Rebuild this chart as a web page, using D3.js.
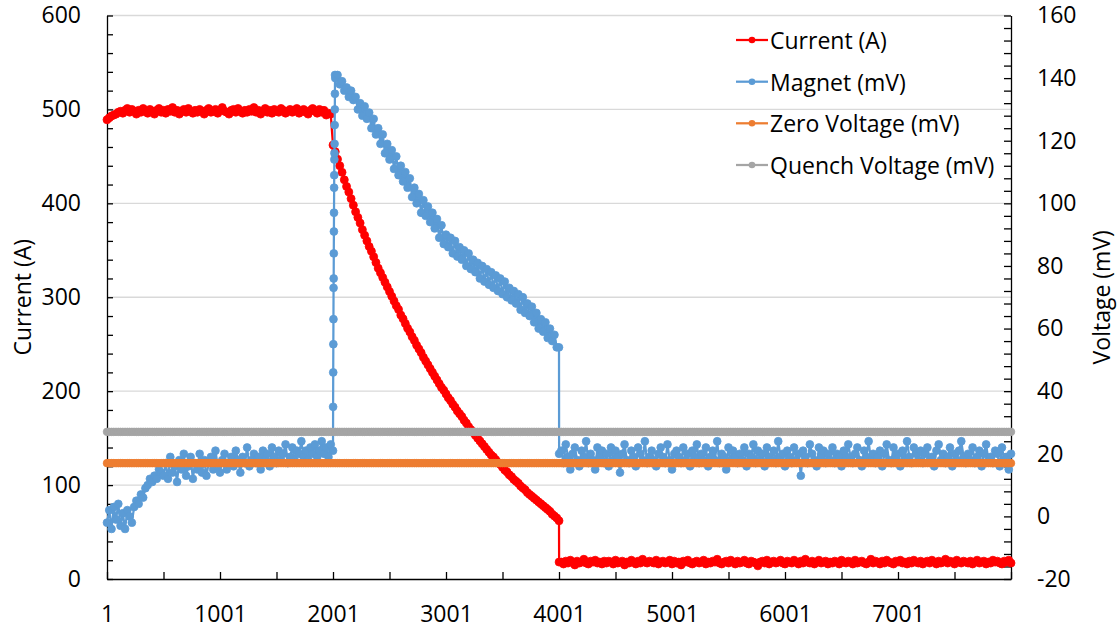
<!DOCTYPE html>
<html>
<head>
<meta charset="utf-8">
<script src="https://cdn.jsdelivr.net/npm/d3@7"></script>
<style>
  html, body { margin: 0; padding: 0; background: #fff; }
  svg { display: block; }
  text { font-family: "Open Sans", "Liberation Sans", sans-serif; fill: #000; }
</style>
</head>
<body>
<svg id="chart" width="1119" height="629"></svg>
<script>
// ---------------- DATA ----------------
// Samples every 20 points (index 1, 21, 41, ... 8001)
const sampleStep = 20;
const sampleStart = 1;

const seriesNames = ["Current (A)", "Magnet (mV)", "Zero Voltage (mV)", "Quench Voltage (mV)"];
const seriesColors = ["#FF0000", "#5B9BD5", "#ED7D31", "#A5A5A5"];

const xTickLabels = [1, 1001, 2001, 3001, 4001, 5001, 6001, 7001];

// Current (A), left axis
const currentA = [
  // steady current, index 1 .. 1981
  489,491,493,494,495,497,498,496,499,501,497,500,498,495,499,497,501,498,496,500,
  498,495,499,501,497,499,496,500,498,502,497,499,495,498,500,497,501,498,496,499,
  497,500,498,495,499,501,497,498,500,496,499,502,498,497,495,499,500,497,501,498,
  496,499,497,500,498,502,497,499,495,498,501,497,499,496,500,498,497,501,499,496,
  498,500,497,499,501,496,498,500,497,495,499,501,498,496,500,497,499,494,496,495,
  // decay after quench, index 2001 .. 3981
  462,455,447,440,433,425,418,412,405,398,391,385,379,372,366,360,354,349,343,337,
  331,326,321,316,311,306,301,296,291,287,281,277,272,267,263,258,254,249,245,241,
  236,232,228,224,220,216,212,208,204,201,197,193,190,186,183,179,176,173,169,166,
  162,159,156,153,150,147,144,141,138,135,132,130,127,124,122,119,116,114,111,109,
  106,104,102,99,97,95,92,90,88,86,84,82,80,78,76,74,72,69,67,65,
  // index 4001
  62,
  // after switch-off, index 4021 .. 8001
  18,16,19,17,20,18,15,19,17,18,21,17,16,19,18,20,17,18,16,19,
  17,19,18,16,20,17,18,19,15,18,17,20,18,16,19,17,21,18,17,19,
  18,17,20,16,18,19,17,18,20,16,19,17,18,15,19,18,20,17,16,18,
  19,17,18,20,16,18,17,19,18,21,17,16,18,19,17,20,18,16,19,17,
  18,20,17,16,19,18,17,14,18,19,17,20,16,18,19,17,18,20,17,16,
  19,18,17,20,18,16,19,17,21,18,17,19,16,18,20,17,18,19,16,18,
  17,19,18,16,20,18,17,19,18,16,20,17,18,19,17,16,18,21,17,19,
  18,16,19,17,20,18,17,16,19,18,20,17,18,16,19,17,20,18,17,19,
  16,18,19,17,20,18,16,19,17,18,21,17,19,18,16,20,18,17,19,18,
  17,19,16,18,20,17,18,19,16,18,17,20,18,19,17,16,19,18,20,17
];
// extra point recorded at the fast drop
const currentExtraIdx = [4002];
const currentExtraA = [18];

// Magnet (mV), right axis
const magnetMV = [
  // index 1 .. 1981
  -2,2,-4,3,-1,4,-3,1,-4,2,0,-2,3,5,4,7,6,9,10,12,
  11,13,12,15,14,13,17,12,19,14,16,11,18,15,20,13,16,19,12,17,
  15,20,14,18,13,17,19,15,21,16,14,18,20,15,17,19,16,21,18,14,
  19,17,22,16,18,20,17,19,15,21,18,20,16,22,19,17,21,18,20,23,
  17,19,22,18,21,20,24,19,21,18,22,20,23,19,21,24,20,22,19,23,
  // index 2001
  21,
  // decline after the quench spike, index 2021 .. 3981
  140,141,138,139,136,137,134,136,133,134,
  130,132,128,131,127,129,124,127,122,124,
  119,122,116,119,114,117,111,115,109,112,
  107,110,105,108,102,105,100,103,97,101,
  96,99,94,97,92,95,89,93,87,90,
  86,89,84,88,83,86,82,85,80,84,
  79,82,78,81,76,80,75,79,74,78,
  73,77,72,76,71,75,70,73,69,72,
  68,71,66,70,65,68,64,67,62,65,
  60,63,59,62,57,60,56,58,54,
  // index 4001
  54,
  // index 4021 .. 8001
  21,17,23,19,15,20,22,18,16,21,19,24,17,20,18,15,22,19,21,17,
  20,16,22,18,21,19,14,20,23,18,17,21,19,16,22,20,18,24,17,19,
  21,18,16,20,22,19,17,23,18,15,20,21,19,17,22,18,20,16,21,19,
  23,17,20,18,22,16,19,21,18,24,17,20,19,15,22,18,21,19,17,20,
  18,22,16,20,19,23,17,21,18,20,16,22,19,18,21,17,24,19,20,16,
  21,19,17,22,18,20,13,21,19,17,23,20,18,16,22,19,21,17,20,18,
  22,17,20,19,16,21,18,23,19,17,20,22,18,16,21,19,24,18,20,17,
  19,21,16,20,23,18,17,22,19,20,16,21,18,24,19,17,22,20,18,21,
  17,20,22,18,19,16,21,23,18,20,17,19,22,16,20,18,21,24,19,17,
  20,18,22,17,19,21,16,20,23,18,19,17,21,20,16,22,18,19,15,20
];
// extra points recorded during the quench spike and the final drop
const magnetExtraIdx = [2002, 2003, 2004, 2005, 2006, 2007, 2008, 2009, 2010, 2011, 2012, 2013, 2014, 2015, 2016, 2017, 2018, 2019, 4002];
const magnetExtraMV = [35, 46, 55, 63, 73, 76, 84, 91, 97, 105, 109, 114, 116, 119, 125, 130, 135, 141, 20];

const zeroVoltageMV = 17;
const quenchVoltageMV = 27;

// ---------------- BUILD ----------------
function buildSeries(vals, extraIdx, extraVals) {
  const pts = vals.map((v, i) => ({ idx: sampleStart + i * sampleStep, v }));
  (extraIdx || []).forEach((ix, k) => pts.push({ idx: ix, v: extraVals[k] }));
  pts.sort((a, b) => a.idx - b.idx);
  return pts;
}
const currentPts = buildSeries(currentA, currentExtraIdx, currentExtraA);
const magnetPts = buildSeries(magnetMV, magnetExtraIdx, magnetExtraMV);
const sampleIdx = magnetMV.map((_, i) => sampleStart + i * sampleStep);
const zeroPts = sampleIdx.map(idx => ({ idx, v: zeroVoltageMV }));
const quenchPts = sampleIdx.map(idx => ({ idx, v: quenchVoltageMV }));

// ---------------- LAYOUT ----------------
const plot = { left: 107, right: 1011, top: 15.5, bottom: 579 };
const svg = d3.select("#chart");

const x = d3.scaleLinear().domain([1, 8001]).range([plot.left, plot.right]);
const yL = d3.scaleLinear().domain([0, 600]).range([plot.bottom, plot.top]);
const yR = d3.scaleLinear().domain([-20, 160]).range([plot.bottom, plot.top]);

const fontSize = 23;

// gridlines
svg.append("g").selectAll("line")
  .data(d3.range(100, 601, 100))
  .join("line")
  .attr("x1", plot.left).attr("x2", plot.right)
  .attr("y1", d => yL(d)).attr("y2", d => yL(d))
  .attr("stroke", "#D9D9D9").attr("stroke-width", 1.3);

// axes
function styleAxis(g) {
  g.selectAll("path.domain").attr("stroke", "#000").attr("stroke-width", 1.3);
  g.selectAll(".tick line").attr("stroke", "#000").attr("stroke-width", 1.3);
  g.selectAll("text").style("font-size", fontSize + "px").attr("fill", "#000");
}

svg.append("g")
  .attr("transform", `translate(${plot.left},0)`)
  .call(d3.axisLeft(yL).tickValues(d3.range(0, 601, 20))
    .tickSizeInner(-6).tickSizeOuter(0).tickPadding(26)
    .tickFormat(d => d % 100 === 0 ? String(d) : ""))
  .call(styleAxis);

svg.append("g")
  .attr("transform", `translate(${plot.right},0)`)
  .call(d3.axisRight(yR).tickValues(d3.range(-20, 161, 4))
    .tickSizeInner(-7).tickSizeOuter(0).tickPadding(26)
    .tickFormat(d => d % 20 === 0 ? String(d) : ""))
  .call(styleAxis);

svg.append("g")
  .attr("transform", `translate(0,${plot.bottom})`)
  .call(d3.axisBottom(x).tickValues(d3.range(1, 8002, 500))
    .tickSizeInner(-7).tickSizeOuter(0).tickPadding(27)
    .tickFormat(d => xTickLabels.includes(d) ? String(d) : ""))
  .call(styleAxis);

// axis titles
svg.append("text")
  .attr("transform", `translate(22,${(plot.top + plot.bottom) / 2}) rotate(-90)`)
  .attr("text-anchor", "middle").attr("dominant-baseline", "central")
  .style("font-size", fontSize + "px").text("Current (A)");
svg.append("text")
  .attr("transform", `translate(1101,${(plot.top + plot.bottom) / 2}) rotate(-90)`)
  .attr("text-anchor", "middle").attr("dominant-baseline", "central")
  .style("font-size", fontSize + "px").text("Voltage (mV)");

// series
function drawSeries(pts, yScale, color, r) {
  const g = svg.append("g");
  const line = d3.line().x(d => x(d.idx)).y(d => yScale(d.v));
  g.append("path").datum(pts).attr("d", line)
    .attr("fill", "none").attr("stroke", color).attr("stroke-width", 2.25)
    .attr("stroke-linejoin", "round");
  g.selectAll("circle").data(pts).join("circle")
    .attr("cx", d => x(d.idx)).attr("cy", d => yScale(d.v)).attr("r", r)
    .attr("fill", color).attr("stroke", color).attr("stroke-width", 0.8);
}
drawSeries(currentPts, yL, seriesColors[0], 4);
drawSeries(magnetPts, yR, seriesColors[1], 3.9);
drawSeries(zeroPts, yR, seriesColors[2], 3.8);
drawSeries(quenchPts, yR, seriesColors[3], 3.8);

// legend
const legendRows = [40, 81.7, 123.3, 165];
const lg = svg.append("g");
seriesNames.forEach((name, i) => {
  const yy = legendRows[i];
  lg.append("line").attr("x1", 736).attr("x2", 768).attr("y1", yy).attr("y2", yy)
    .attr("stroke", seriesColors[i]).attr("stroke-width", 2.25);
  lg.append("circle").attr("cx", 752).attr("cy", yy).attr("r", 3.3)
    .attr("fill", seriesColors[i]);
  lg.append("text").attr("x", 770).attr("y", yy).attr("dominant-baseline", "central")
    .style("font-size", fontSize + "px").text(name);
});
</script>
</body>
</html>
